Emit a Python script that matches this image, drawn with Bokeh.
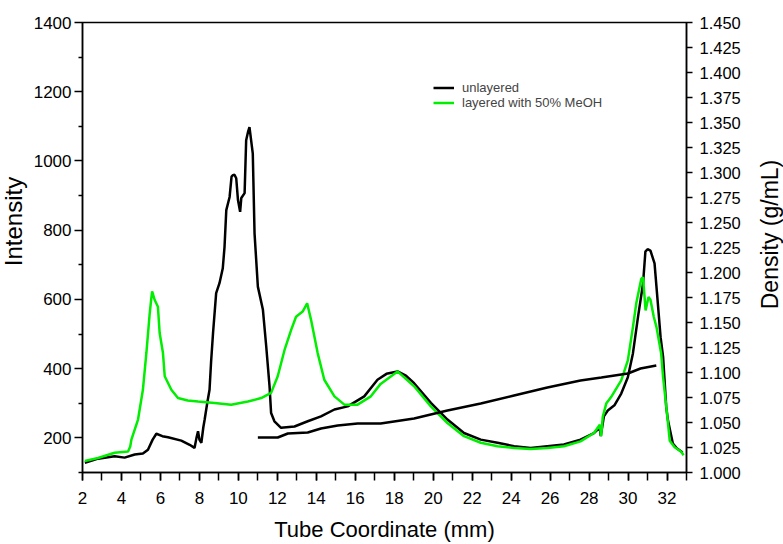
import math
from bokeh.plotting import figure
from bokeh.models import (Range1d, LinearAxis, FixedTicker, Legend, LegendItem,
                          NumeralTickFormatter, Label)
from bokeh.embed import file_html
from bokeh.resources import INLINE

# ---- data ----
unlayered_x = [2.12, 2.8, 3.65, 4.16, 4.68, 5.1, 5.36, 5.6, 5.79, 6.1, 6.39, 7.07, 7.5, 7.75,
               7.85, 7.93, 8.0, 8.1, 8.2, 8.27, 8.4, 8.52, 8.6, 8.7, 8.86, 9.03, 9.2, 9.29,
               9.38, 9.55, 9.65, 9.72, 9.8, 9.89, 9.98, 10.09, 10.15, 10.32, 10.4, 10.5,
               10.57, 10.74, 10.83, 11.0, 11.26, 11.43, 11.6, 11.68, 11.85, 12.19, 12.88,
               13.56, 14.24, 14.93, 15.61, 16.46, 17.14, 17.6, 18.17, 18.6, 19.02, 19.88,
               20.73, 21.58, 22.44, 23.3, 24.15, 25.0, 25.86, 26.71, 27.56, 28.25, 28.55,
               28.6, 28.76, 28.96, 29.3, 29.65, 29.99, 30.25, 30.51, 30.77, 30.89, 31.0,
               31.15, 31.36, 31.53, 31.67, 31.8, 31.96, 32.05, 32.3, 32.5, 32.8]
unlayered_y = [128, 140, 147, 143, 152, 155, 166, 195, 212, 205, 202, 192, 180, 171,
               200, 219, 195, 186, 230, 253, 300, 339, 420, 503, 618, 647, 690, 752,
               858, 896, 955, 959, 960, 950, 887, 853, 893, 907, 1060, 1085,
               1098, 1021, 791, 637, 570, 464, 349, 272, 248, 229, 233,
               248, 262, 282, 291, 320, 368, 385, 392, 380, 358, 301,
               253, 214, 195, 186, 176, 171, 176, 181, 195, 214, 230,
               205, 262, 279, 294, 328, 375, 444, 549, 646, 738, 745,
               741, 704, 588, 491, 433, 289, 250, 184, 170, 158]

layered_x = [2.12, 2.8, 3.65, 4.34, 4.45, 4.51, 4.85, 5.1, 5.28, 5.45, 5.57, 5.62, 5.7,
             5.87, 5.96, 6.13, 6.22, 6.56, 6.9, 7.4, 7.93, 8.78, 9.63, 10.49, 11.17,
             11.68, 12.02, 12.37, 12.71, 12.96, 13.3, 13.53, 13.73, 14.07, 14.41, 14.93,
             15.44, 16.12, 16.8, 17.3, 18.17, 19.02, 19.88, 20.73, 21.58, 22.44, 23.3,
             24.15, 25.0, 25.86, 26.71, 27.56, 28.25, 28.55, 28.62, 28.7, 28.88, 29.13,
             29.65, 29.99, 30.25, 30.42, 30.68, 30.77, 30.9, 31.05, 31.15, 31.32, 31.46,
             31.7, 31.8, 32.0, 32.14, 32.39, 32.73, 32.85]
layered_y = [133, 142, 157, 161, 175, 195, 253, 339, 446, 560, 623, 615, 599,
             579, 503, 445, 378, 339, 315, 308, 305, 301, 296, 305, 315,
             330, 378, 454, 512, 550, 565, 589, 541, 445, 368, 320,
             296, 296, 320, 356, 392, 349, 291, 243, 205, 186, 176,
             171, 168, 171, 176, 190, 214, 238, 205, 260, 299, 318,
             366, 424, 520, 588, 660, 664, 568, 607, 599, 550, 520,
             444, 375, 270, 192, 173, 160, 150]

density_x = [11.0, 12.02, 12.54, 13.56, 14.24, 15.1, 16.12, 17.3, 19.02, 20.73, 22.44,
             24.15, 25.86, 27.56, 28.63, 29.99, 30.64, 31.45]
density_y = [1.035, 1.035, 1.039, 1.040, 1.044, 1.047, 1.049, 1.049, 1.054, 1.062, 1.069,
             1.077, 1.085, 1.092, 1.095, 1.099, 1.104, 1.107]

x_ticks = list(range(2, 33, 2))
x_minor = list(range(2, 34, 1))
left_ticks = [200, 400, 600, 800, 1000, 1200, 1400]
left_minor = [100, 300, 500, 700, 900, 1100, 1300]
right_ticks = [1.0 + 0.025 * i for i in range(19)]

FONT = "Liberation Sans"
GREEN = "#00ee00"

p = figure(width=783, height=544, output_backend="svg", toolbar_location=None,
           x_range=Range1d(2, 33), y_range=Range1d(100, 1400),
           min_border_left=82, min_border_right=97, min_border_top=22, min_border_bottom=72,
           x_axis_label="Tube Coordinate (mm)")
p.extra_y_ranges = {"density": Range1d(1.0, 1.45)}
p.grid.visible = False
p.outline_line_color = "black"
p.outline_line_width = 1.5
p.background_fill_color = "white"
p.border_fill_color = "white"

r1 = p.line(unlayered_x, unlayered_y, line_color="black", line_width=2.5)
r2 = p.line(layered_x, layered_y, line_color=GREEN, line_width=2.5)
p.line(density_x, density_y, line_color="black", line_width=2.5, y_range_name="density")

right = LinearAxis(y_range_name="density")
p.add_layout(right, "right")

xa = p.xaxis[0]
xa.ticker = FixedTicker(ticks=x_ticks, minor_ticks=x_minor)
xa.major_tick_out = 8
xa.minor_tick_out = 8
xa.major_tick_in = 0
xa.minor_tick_in = 0
xa.major_label_standoff = 11
xa.axis_label_standoff = 10

ya = p.yaxis[0]
ya.ticker = FixedTicker(ticks=left_ticks, minor_ticks=left_minor)
ya.major_tick_out = 8
ya.minor_tick_out = 4
ya.major_tick_in = 0
ya.minor_tick_in = 0
ya.major_label_standoff = 3

right.ticker = FixedTicker(ticks=right_ticks, minor_ticks=[])
right.formatter = NumeralTickFormatter(format="0.000")
right.major_tick_out = 6
right.major_tick_in = 0
right.minor_tick_out = 0
right.minor_tick_in = 0
right.major_label_standoff = 7

for ax in (xa, ya, right):
    ax.axis_line_color = "black"
    ax.axis_line_width = 1.5
    ax.major_tick_line_color = "black"
    ax.major_tick_line_width = 1.5
    ax.minor_tick_line_color = "black"
    ax.minor_tick_line_width = 1.5
    ax.major_label_text_font = FONT
    ax.major_label_text_color = "black"
    ax.axis_label_text_font = FONT
    ax.axis_label_text_font_style = "normal"
    ax.axis_label_text_font_size = "22px"
    ax.axis_label_text_color = "black"
xa.major_label_text_font_size = "17px"
ya.major_label_text_font_size = "17px"
right.major_label_text_font_size = "16.5px"

# axis titles reading bottom-to-top, each in its own side panel
int_label = Label(x=10, y=251, x_units="screen", y_units="screen", text="Intensity",
                  angle=math.pi / 2, text_align="center", text_baseline="middle",
                  text_font=FONT, text_font_size="24px", text_color="black")
p.add_layout(int_label, "left")
dens_label = Label(x=26, y=238, x_units="screen", y_units="screen", text="Density (g/mL)",
                   angle=math.pi / 2, text_align="center", text_baseline="middle",
                   text_font=FONT, text_font_size="23px", text_color="black")
p.add_layout(dens_label, "right")

legend = Legend(items=[LegendItem(label="unlayered", renderers=[r1]),
                       LegendItem(label="layered with 50% MeOH", renderers=[r2])],
                location=(351, 362), padding=0, margin=0, spacing=0,
                glyph_width=21, glyph_height=15, label_height=15, label_standoff=8,
                label_text_font=FONT, label_text_font_size="13px",
                border_line_alpha=0, background_fill_alpha=0)
p.add_layout(legend)

open("out.html", "w").write(file_html(p, INLINE))
